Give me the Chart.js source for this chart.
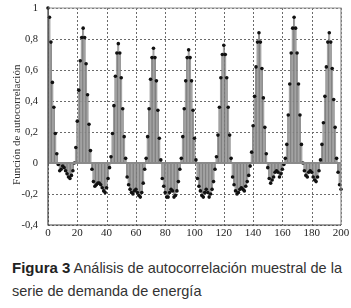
<!DOCTYPE html>
<html><head><meta charset="utf-8">
<script src="https://cdn.jsdelivr.net/npm/chart.js@4.4.1/dist/chart.umd.min.js"></script>
<style>
html,body{margin:0;padding:0;background:#fff;width:351px;height:308px;overflow:hidden}
#wrap{position:absolute;left:0;top:0;width:351px;height:245px}
#cap{position:absolute;left:12px;top:256px;width:336px;font-family:"Liberation Sans",Arial,sans-serif;font-size:14.5px;line-height:23px;color:#333}
#cap b{font-size:15px;color:#222}
</style></head><body>
<div id="wrap"><canvas id="c" width="351" height="245"></canvas></div>
<div id="cap"><b>Figura 3</b> Análisis de autocorrelación muestral de la serie de demanda de energía</div>
<script>
// Lags 0..200
const lags = Array.from({length: 201}, (_, i) => i);
// Autocorrelation values
const acfCycle0 = [1.00, 0.94, 0.78, 0.52, 0.36, 0.19, 0.06, -0.01, -0.05, -0.04, -0.02, -0.03, -0.05, -0.07, -0.09, -0.10, -0.08, -0.05, 0.00, 0.10, 0.27, 0.47, 0.66, 0.81];
const acfCycle1 = [0.87, 0.81, 0.64, 0.44, 0.25, 0.08, -0.04, -0.12, -0.15, -0.14, -0.13, -0.13, -0.14, -0.16, -0.18, -0.19, -0.16, -0.10, -0.03, 0.04, 0.19, 0.37, 0.56, 0.71];
const acfCycle2 = [0.77, 0.71, 0.55, 0.35, 0.17, 0.03, -0.09, -0.14, -0.17, -0.19, -0.20, -0.18, -0.17, -0.19, -0.21, -0.22, -0.19, -0.13, -0.04, 0.03, 0.17, 0.35, 0.54, 0.68];
const acfCycle3 = [0.74, 0.68, 0.53, 0.34, 0.16, 0.02, -0.10, -0.15, -0.19, -0.22, -0.22, -0.19, -0.17, -0.18, -0.22, -0.21, -0.18, -0.12, -0.04, 0.03, 0.17, 0.35, 0.53, 0.68];
const acfCycle4 = [0.73, 0.68, 0.53, 0.34, 0.16, 0.02, -0.10, -0.15, -0.18, -0.21, -0.22, -0.19, -0.17, -0.19, -0.22, -0.20, -0.17, -0.12, -0.04, 0.04, 0.18, 0.36, 0.55, 0.70];
const acfCycle5 = [0.76, 0.70, 0.55, 0.36, 0.18, 0.03, -0.09, -0.14, -0.18, -0.20, -0.19, -0.17, -0.16, -0.17, -0.18, -0.15, -0.12, -0.08, -0.02, 0.07, 0.24, 0.43, 0.62, 0.78];
const acfCycle6 = [0.84, 0.78, 0.61, 0.42, 0.23, 0.06, -0.03, -0.10, -0.13, -0.11, -0.09, -0.06, -0.05, -0.06, -0.09, -0.07, -0.04, -0.01, 0.03, 0.12, 0.31, 0.51, 0.71, 0.87];
const acfCycle7 = [0.94, 0.87, 0.71, 0.51, 0.31, 0.12, 0.00, -0.05, -0.08, -0.09, -0.06, -0.05, -0.06, -0.09, -0.11, -0.12, -0.09, -0.05, 0.02, 0.12, 0.26, 0.43, 0.62, 0.78];
const acfTail = [0.84, 0.78, 0.61, 0.41, 0.23, 0.03, -0.06, -0.14, -0.17];
const acf = [].concat(acfCycle0, acfCycle1, acfCycle2, acfCycle3, acfCycle4, acfCycle5, acfCycle6, acfCycle7, acfTail);
const xTicks = [0, 20, 40, 60, 80, 100, 120, 140, 160, 180, 200];
const yTicks = [-0.4, -0.2, 0, 0.2, 0.4, 0.6, 0.8, 1];

const pts = lags.map((l, i) => ({x: l, y: acf[i]}));
const fmt = v => { const r = Math.round(v * 10) / 10; return String(r).replace('.', ','); };

const frame = {
  id: 'frame',
  beforeDatasetsDraw(chart) {
    const {ctx, chartArea: a, scales} = chart;
    ctx.save();
    ctx.strokeStyle = '#6a6a6a'; ctx.lineWidth = 1; ctx.setLineDash([2, 2]);
    ctx.beginPath();
    xTicks.forEach(v => { const p = Math.round(scales.x.getPixelForValue(v)) + 0.5; ctx.moveTo(p, a.top); ctx.lineTo(p, a.bottom); });
    yTicks.forEach(v => { const p = Math.round(scales.y.getPixelForValue(v)) + 0.5; ctx.moveTo(a.left, p); ctx.lineTo(a.right, p); });
    ctx.stroke();
    ctx.restore();
  },
  afterDatasetsDraw(chart) {
    const {ctx, chartArea: a, scales} = chart;
    ctx.save();
    const y0 = scales.y.getPixelForValue(0);
    ctx.strokeStyle = '#8a8a8a'; ctx.lineWidth = 2;
    ctx.beginPath(); ctx.moveTo(a.left, y0); ctx.lineTo(a.right, y0); ctx.stroke();
    ctx.restore();
  },
  afterDraw(chart) {
    const {ctx, chartArea: a} = chart;
    ctx.save();
    ctx.lineWidth = 1.2;
    ctx.strokeStyle = '#909090';
    ctx.beginPath(); ctx.moveTo(a.left, a.top); ctx.lineTo(a.right, a.top); ctx.lineTo(a.right, a.bottom); ctx.stroke();
    ctx.strokeStyle = '#444';
    ctx.beginPath(); ctx.moveTo(a.left, a.top); ctx.lineTo(a.left, a.bottom); ctx.lineTo(a.right, a.bottom); ctx.stroke();
    ctx.restore();
  }
};

const serif = '"Liberation Serif", "Times New Roman", serif';
new Chart(document.getElementById('c'), {
  data: {
    datasets: [
      {type: 'scatter', data: pts, pointRadius: 1.8, pointBackgroundColor: '#111', pointBorderWidth: 0, order: 0, clip: false},
      {type: 'bar', data: pts, backgroundColor: '#a3a3a3', borderColor: '#6d6d6d', borderWidth: {left: 0.6, right: 0.6, top: 0, bottom: 0}, barPercentage: 1, categoryPercentage: 1, order: 1}
    ]
  },
  options: {
    responsive: false, animation: false,
    layout: {padding: {left: 0, right: 10, top: 8, bottom: 0}},
    plugins: {legend: {display: false}, tooltip: {enabled: false}},
    scales: {
      x: {
        type: 'linear', min: 0, max: 200, offset: false,
        afterBuildTicks: s => { s.ticks = xTicks.map(v => ({value: v})); },
        afterFit: s => { s.height = 20; s.paddingLeft = 0; s.paddingRight = 0; },
        ticks: {color: '#222', font: {family: serif, size: 11}, padding: 2, maxRotation: 0, autoSkip: false},
        grid: {display: false, drawTicks: false},
        border: {display: false}
      },
      y: {
        type: 'linear', min: -0.4, max: 1,
        afterBuildTicks: s => { s.ticks = yTicks.map(v => ({value: v})); },
        afterFit: s => { s.width = 48; s.paddingTop = 0; s.paddingBottom = 0; },
        ticks: {color: '#222', font: {family: serif, size: 10.5}, padding: 10, autoSkip: false, callback: v => fmt(v)},
        grid: {display: false, drawTicks: false},
        border: {display: false},
        title: {display: true, text: 'Función de autocorrelación\u00a0\u00a0\u00a0\u00a0\u00a0\u00a0', color: '#333', font: {family: serif, size: 11}, padding: {top: 11, bottom: 0}}
      }
    }
  },
  plugins: [frame]
});
</script>
</body></html>
